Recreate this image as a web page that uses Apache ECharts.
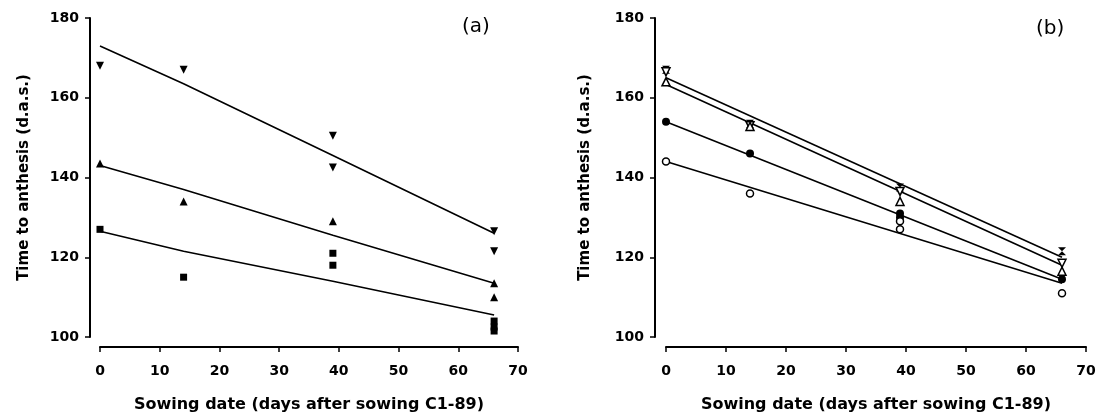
<!DOCTYPE html>
<html><head><meta charset="utf-8">
<script src="https://cdn.jsdelivr.net/npm/echarts@6/dist/echarts.min.js"></script>
<style>html,body{margin:0;padding:0;background:#fff}#c{width:1100px;height:416px}</style>
</head><body><div id="c"></div>
<script>
// ---- data ----
const sowingDays = [0, 14, 39, 66];
const xTicks = [0, 10, 20, 30, 40, 50, 60, 70];
const yTicks = [100, 120, 140, 160, 180];
const xName = 'Sowing date (days after sowing C1-89)';
const yName = 'Time to anthesis (d.a.s.)';
const panelLabels = ['(a)', '(b)'];

// Panel (a): observations per sowing date
const aDownObs = [[168], [167], [150.5, 142.5], [126.5, 121.5]];
const aUpObs = [[143.5], [134], [129], [113.5, 110]];
const aSquareObs = [[127], [115], [121, 118], [104, 102.5, 101.5]];
// Panel (a): fitted lines at sowing dates
const aDownFit = [173, 163.5, 145.5, 126];
const aUpFit = [143, 137, 125.5, 113.5];
const aSquareFit = [126.5, 121.5, 114, 105.5];

// Panel (b): observations per sowing date
const bBowtieObs = [[167], [153.5], [137.5], [121.5]];
const bOpenDownObs = [[166.5], [153], [136.5], [118.5]];
const bOpenUpObs = [[164], [152.8], [134], [116.5]];
const bDotObs = [[154], [146], [131, 130], [114.5]];
const bOpenCircObs = [[144], [136], [129, 127], [111]];
// Panel (b): fitted straight lines (first and last sowing date)
const bFitDays = [0, 66];
const bFit1 = [165, 120];
const bFit2 = [163.3, 118];
const bFit3 = [154, 114.5];
const bFit4 = [144, 113.5];

// ---- build ----
const FONT = 'DejaVu Sans';
function obsPairs(days, obs) {
  const out = [];
  days.forEach((d, i) => obs[i].forEach(v => out.push([d, v])));
  return out;
}
function fitPairs(days, vals) { return days.map((d, i) => [d, vals[i]]); }

const bowtie = 'path://M0,0 L10,0 L5,5 L10,10 L0,10 L5,5 Z';

function scatter(idx, data, symbol, open, size, rotate) {
  return {
    type: 'scatter', xAxisIndex: idx, yAxisIndex: idx, data: data,
    symbol: symbol, symbolSize: size || 8, symbolRotate: rotate || 0,
    itemStyle: open ? {color: '#fff', borderColor: '#000', borderWidth: 1.5, opacity: 1}
                    : {color: '#000', opacity: 1},
    z: 5, silent: true
  };
}
function line(idx, data) {
  return {
    type: 'line', xAxisIndex: idx, yAxisIndex: idx, data: data,
    symbol: 'none', lineStyle: {color: '#000', width: 1.6}, z: 3, silent: true
  };
}

function xAx(gi) {
  return {
    type: 'value', gridIndex: gi, min: 0, max: 70, interval: 10, offset: 10,
    axisLine: {show: true, onZero: false, lineStyle: {color: '#000', width: 2}},
    axisTick: {show: true, length: 5, lineStyle: {color: '#000', width: 1.5}},
    axisLabel: {color: '#000', fontFamily: FONT, fontWeight: 'bold', fontSize: 14, margin: 17,
      formatter: v => xTicks.includes(v) ? String(v) : ''},
    splitLine: {show: false},
    name: xName, nameLocation: 'middle', nameGap: 50,
    nameTextStyle: {color: '#000', fontFamily: FONT, fontWeight: 'bold', fontSize: 16}
  };
}
function yAx(gi, off, gap) {
  return {
    type: 'value', gridIndex: gi, min: 100, max: 180, interval: 20, offset: off,
    axisLine: {show: true, onZero: false, lineStyle: {color: '#000', width: 2}},
    axisTick: {show: true, length: 5, lineStyle: {color: '#000', width: 1.5}},
    axisLabel: {color: '#000', fontFamily: FONT, fontWeight: 'bold', fontSize: 14, margin: 11,
      formatter: v => yTicks.includes(v) ? String(v) : ''},
    splitLine: {show: false},
    name: yName, nameLocation: 'middle', nameGap: gap,
    nameTextStyle: {color: '#000', fontFamily: FONT, fontWeight: 'bold', fontSize: 15}
  };
}

const option = {
  backgroundColor: '#fff',
  animation: false,
  grid: [
    {left: 100, right: 582, top: 18, bottom: 79, outerBoundsMode: 'none', containLabel: false},
    {left: 666, right: 14, top: 18, bottom: 79, outerBoundsMode: 'none', containLabel: false}
  ],
  xAxis: [xAx(0), xAx(1)],
  yAxis: [yAx(0, 10, 58), yAx(1, 11, 62)],
  graphic: [
    {type: 'text', left: 462, top: 17, style: {text: panelLabels[0], font: '20px "DejaVu Sans"', fill: '#000'}},
    {type: 'text', left: 1036, top: 19, style: {text: panelLabels[1], font: '20px "DejaVu Sans"', fill: '#000'}}
  ],
  series: [
    line(0, fitPairs(sowingDays, aDownFit)),
    line(0, fitPairs(sowingDays, aUpFit)),
    line(0, fitPairs(sowingDays, aSquareFit)),
    scatter(0, obsPairs(sowingDays, aDownObs), 'triangle', false, 8, 180),
    scatter(0, obsPairs(sowingDays, aUpObs), 'triangle', false, 8),
    scatter(0, obsPairs(sowingDays, aSquareObs), 'rect', false, 7),

    line(1, fitPairs(bFitDays, bFit1)),
    line(1, fitPairs(bFitDays, bFit2)),
    line(1, fitPairs(bFitDays, bFit3)),
    line(1, fitPairs(bFitDays, bFit4)),
    scatter(1, obsPairs(sowingDays, bBowtieObs), bowtie, false, 8),
    scatter(1, obsPairs(sowingDays, bOpenDownObs), 'triangle', true, 8, 180),
    scatter(1, obsPairs(sowingDays, bOpenUpObs), 'triangle', true, 8),
    scatter(1, obsPairs(sowingDays, bDotObs), 'circle', false, 8),
    scatter(1, obsPairs(sowingDays, bOpenCircObs), 'circle', true, 7)
  ]
};
const chart = echarts.init(document.getElementById('c'), null, {renderer: 'canvas'});
chart.setOption(option);
</script></body></html>
